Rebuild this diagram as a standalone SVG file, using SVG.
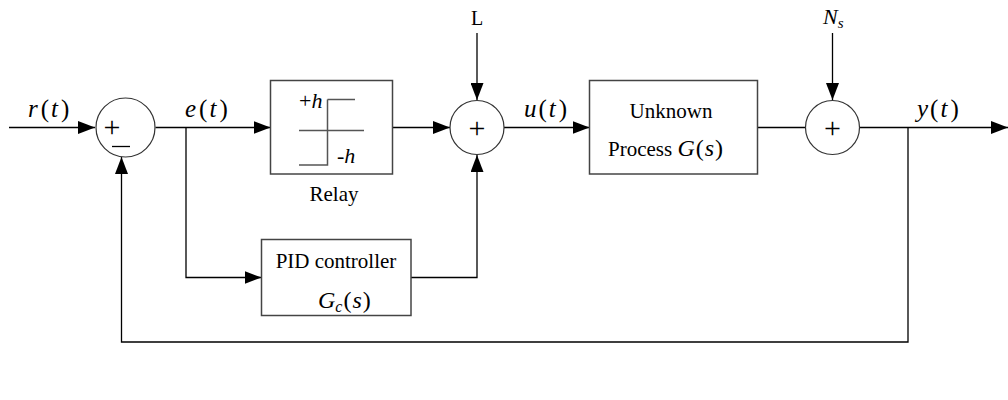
<svg xmlns="http://www.w3.org/2000/svg" width="1008" height="400" viewBox="0 0 1008 400">
<defs>
<marker id="arr" markerUnits="userSpaceOnUse" markerWidth="17" markerHeight="13" refX="17" refY="6.5" orient="auto">
<path d="M0,0 L17,6.5 L0,13 Z" fill="#000"/>
</marker>
<style>
.ln{fill:none;stroke:#000;stroke-width:1.3}
.bx{fill:#fff;stroke:#444;stroke-width:1.5}
.sm{fill:#fff;stroke:#333;stroke-width:1.2}
.rl{fill:none;stroke:#555;stroke-width:1.5}
.t{font-family:"Liberation Serif","Times New Roman",serif;fill:#000}
.m{font-family:"Liberation Serif","Times New Roman",serif;font-size:25px;fill:#000}
.i{font-style:italic}
.pl{font-family:"Liberation Serif","Times New Roman",serif;font-size:30px;fill:#000}
</style>
</defs>
<rect width="1008" height="400" fill="#fff"/>
<g id="connectors">
<path class="ln" d="M9,127.5 H95" marker-end="url(#arr)"/>
<path class="ln" d="M155.5,127.5 H270.5" marker-end="url(#arr)"/>
<path class="ln" d="M186,127.5 V277.5 H261.5" marker-end="url(#arr)"/>
<path class="ln" d="M393,127.5 H450" marker-end="url(#arr)"/>
<path class="ln" d="M411,277.5 H477 V155" marker-end="url(#arr)"/>
<path class="ln" d="M477,33 V100" marker-end="url(#arr)"/>
<path class="ln" d="M504,127.5 H589.5" marker-end="url(#arr)"/>
<path class="ln" d="M758,127.5 H805.5"/>
<path class="ln" d="M832.5,33 V100" marker-end="url(#arr)"/>
<path class="ln" d="M859.5,127.5 H1008" marker-end="url(#arr)"/>
<path class="ln" d="M908,127.5 V342 H121.5 V157" marker-end="url(#arr)"/>
</g>
<g id="labels">
<text class="m" x="28" y="117"><tspan class="i">r</tspan><tspan dx="3">(</tspan><tspan class="i" dx="2">t</tspan><tspan dx="3">)</tspan></text>
<text class="m" x="185" y="117"><tspan class="i">e</tspan><tspan dx="3">(</tspan><tspan class="i" dx="2">t</tspan><tspan dx="3">)</tspan></text>
<text class="m" x="524" y="117"><tspan class="i">u</tspan><tspan dx="2">(</tspan><tspan class="i" dx="2">t</tspan><tspan dx="3">)</tspan></text>
<text class="m" x="917" y="117"><tspan class="i">y</tspan><tspan dx="2">(</tspan><tspan class="i" dx="2">t</tspan><tspan dx="3">)</tspan></text>
<text class="t" x="477" y="25" font-size="20" text-anchor="middle">L</text>
<text class="t i" x="823" y="24" font-size="22">N<tspan font-size="15" dy="4">s</tspan></text>
</g>
<g id="sum1">
<circle class="sm" cx="125.5" cy="127.5" r="29.5"/>
<text class="pl" x="112" y="137" text-anchor="middle">+</text>
<line x1="112" y1="146.5" x2="130" y2="146.5" stroke="#000" stroke-width="1.3"/>
</g>
<g id="relay">
<rect class="bx" x="270.5" y="80.5" width="122" height="93.5"/>
<path class="rl" d="M327.5,99.5 V165 H299 M327.5,99.5 H355 M299,130.5 H364"/>
<text class="t" x="299" y="108" font-size="22">+<tspan class="i">h</tspan></text>
<text class="t" x="337" y="163" font-size="22">-<tspan class="i">h</tspan></text>
<text class="t" x="334" y="201" font-size="21" text-anchor="middle">Relay</text>
</g>
<g id="sum2">
<circle class="sm" cx="477" cy="127.5" r="27"/>
<text class="pl" x="477" y="137.5" text-anchor="middle">+</text>
</g>
<g id="process">
<rect class="bx" x="589.5" y="80.5" width="168" height="93.5"/>
<text class="t" x="671" y="118" font-size="21" text-anchor="middle">Unknown</text>
<text class="t" x="608" y="156" font-size="21">Process <tspan class="i" font-size="24">G</tspan><tspan font-size="24" dx="1">(</tspan><tspan class="i" font-size="24" dx="1">s</tspan><tspan font-size="24" dx="1">)</tspan></text>
</g>
<g id="sum3">
<circle class="sm" cx="832.5" cy="127.5" r="27"/>
<text class="pl" x="832.5" y="137.5" text-anchor="middle">+</text>
</g>
<g id="pid">
<rect class="bx" x="261.5" y="239.5" width="149.5" height="76"/>
<text class="t" x="336" y="268" font-size="21" text-anchor="middle">PID controller</text>
<text class="t" x="318" y="308" font-size="24"><tspan class="i">G</tspan><tspan class="i" font-size="16" dy="4">c</tspan><tspan dy="-4" dx="1">(</tspan><tspan class="i" dx="1">s</tspan><tspan dx="1">)</tspan></text>
</g>
</svg>
